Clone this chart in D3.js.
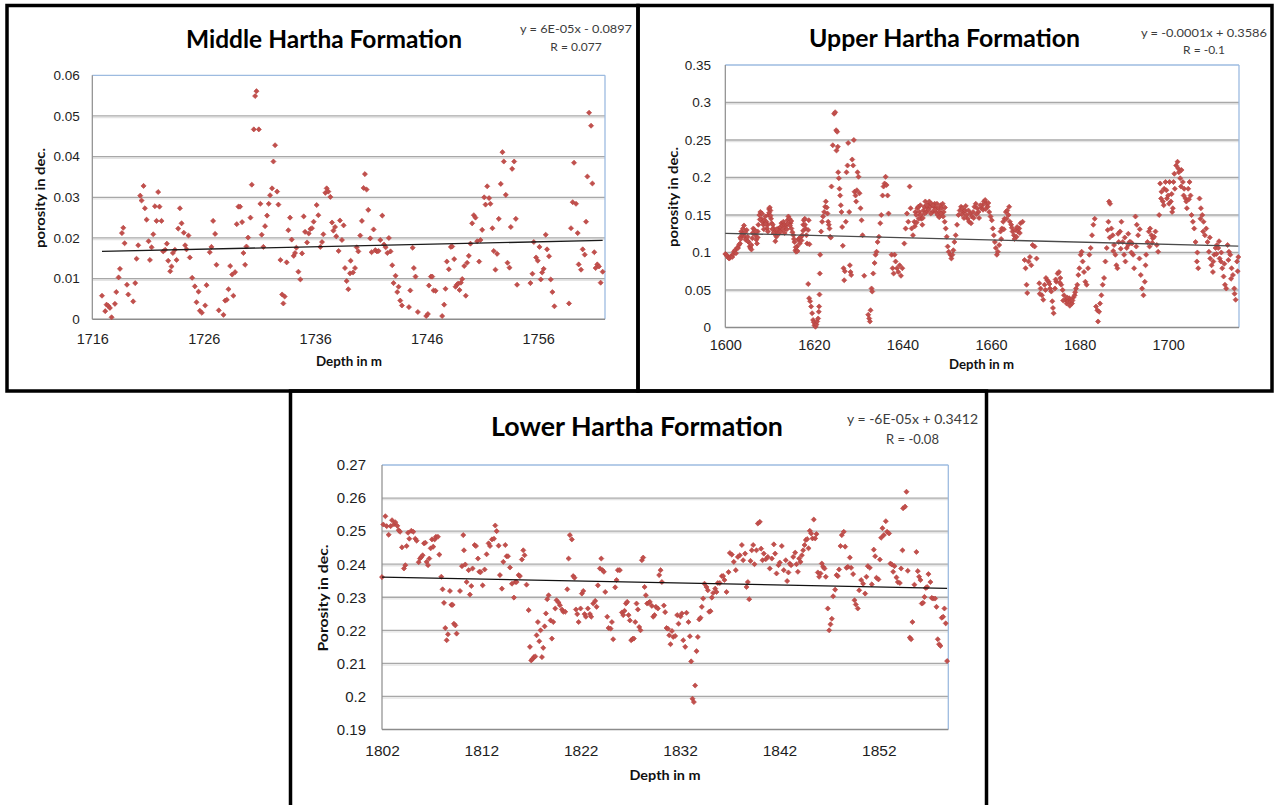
<!DOCTYPE html>
<meta charset="utf-8">
<style>
body { margin: 0; background: #fff; }
svg { display: block; }
.tick text { font-family: "Liberation Sans", Arial, sans-serif; fill: #1e1e1e; }
.title { font-family: Lato, "Open Sans", sans-serif; font-weight: bold; fill: #000; }
.eq { font-family: Lato, "Open Sans", sans-serif; fill: #3c3c3c; }
.axis-title { font-family: Lato, "Open Sans", sans-serif; font-weight: bold; fill: #111; }
</style>
<body>
<script src="https://d3js.org/d3.v7.min.js"></script>
<script>
// ---- data: [depth m, porosity dec.] ----
var middlePoints = [
 [1716.87,0.0058],[1717.16,0.0020],[1717.28,0.0036],[1717.43,0.0033],[1717.58,0.0028],[1717.73,0.0005],[1718.03,0.0038],[1718.15,0.0067],
 [1718.36,0.0103],[1718.48,0.0124],[1718.66,0.0212],[1718.78,0.0225],[1718.90,0.0187],[1719.11,0.0085],[1719.23,0.0061],[1719.67,0.0044],
 [1719.85,0.0089],[1719.97,0.0149],[1720.12,0.0182],[1720.30,0.0304],[1720.42,0.0292],[1720.60,0.0328],[1720.72,0.0273],[1720.87,0.0245],
 [1721.05,0.0192],[1721.17,0.0146],[1721.32,0.0177],[1721.47,0.0209],[1721.62,0.0278],[1721.76,0.0242],[1721.91,0.0313],[1722.03,0.0277],
 [1722.21,0.0242],[1722.36,0.0167],[1722.54,0.0171],[1722.69,0.0186],[1722.81,0.0144],[1722.99,0.0118],[1723.11,0.0130],[1723.23,0.0163],
 [1723.41,0.0171],[1723.56,0.0146],[1723.71,0.0223],[1723.86,0.0273],[1724.01,0.0236],[1724.21,0.0213],[1724.33,0.0182],[1724.45,0.0172],
 [1724.63,0.0206],[1724.75,0.0152],[1724.96,0.0102],[1725.20,0.0081],[1725.35,0.0042],[1725.53,0.0068],[1725.65,0.0021],[1725.83,0.0016],
 [1726.13,0.0034],[1726.25,0.0084],[1726.54,0.0165],[1726.69,0.0178],[1726.84,0.0242],[1727.02,0.0210],[1727.14,0.0134],[1727.35,0.0022],
 [1727.77,0.0011],[1727.92,0.0046],[1728.07,0.0048],[1728.22,0.0074],[1728.37,0.0131],[1728.55,0.0110],[1728.66,0.0058],[1728.81,0.0116],
 [1728.96,0.0234],[1729.11,0.0277],[1729.26,0.0277],[1729.44,0.0239],[1729.56,0.0163],[1729.71,0.0134],[1729.83,0.0179],[1729.98,0.0201],
 [1730.19,0.0250],[1730.31,0.0331],[1730.49,0.0467],[1730.61,0.0549],[1730.73,0.0561],[1730.94,0.0467],[1731.08,0.0284],[1731.20,0.0208],
 [1731.35,0.0178],[1731.50,0.0229],[1731.68,0.0255],[1731.83,0.0284],[1731.95,0.0305],[1732.13,0.0322],[1732.25,0.0388],[1732.40,0.0428],
 [1732.58,0.0314],[1732.70,0.0282],[1732.88,0.0146],[1733.03,0.0061],[1733.14,0.0039],[1733.26,0.0056],[1733.44,0.0140],[1733.59,0.0219],
 [1733.74,0.0250],[1733.89,0.0196],[1734.07,0.0156],[1734.19,0.0163],[1734.31,0.0176],[1734.49,0.0117],[1734.67,0.0098],[1734.82,0.0162],
 [1734.97,0.0253],[1735.09,0.0215],[1735.27,0.0189],[1735.42,0.0211],[1735.57,0.0222],[1735.71,0.0224],[1735.86,0.0240],[1736.13,0.0281],
 [1736.28,0.0256],[1736.46,0.0178],[1736.61,0.0190],[1736.73,0.0209],[1736.91,0.0311],[1737.03,0.0322],[1737.18,0.0314],[1737.36,0.0301],
 [1737.51,0.0238],[1737.63,0.0218],[1737.78,0.0227],[1737.89,0.0204],[1738.10,0.0168],[1738.22,0.0243],[1738.40,0.0195],[1738.55,0.0231],
 [1738.67,0.0126],[1738.82,0.0094],[1738.97,0.0074],[1739.12,0.0113],[1739.18,0.0144],[1739.39,0.0115],[1739.57,0.0126],[1739.72,0.0177],
 [1739.87,0.0167],[1740.04,0.0206],[1740.19,0.0242],[1740.34,0.0323],[1740.46,0.0357],[1740.61,0.0319],[1740.76,0.0269],[1740.94,0.0199],
 [1741.06,0.0165],[1741.24,0.0221],[1741.39,0.0170],[1741.54,0.0167],[1741.69,0.0168],[1741.84,0.0195],[1742.02,0.0255],[1742.17,0.0184],
 [1742.32,0.0177],[1742.47,0.0163],[1742.61,0.0200],[1742.76,0.0167],[1742.91,0.0133],[1743.03,0.0089],[1743.21,0.0107],[1743.36,0.0067],
 [1743.48,0.0080],[1743.63,0.0046],[1743.78,0.0034],[1744.41,0.0030],[1744.53,0.0071],[1744.74,0.0176],[1744.85,0.0126],[1745.00,0.0105],
 [1745.21,0.0018],[1745.96,0.0008],[1746.11,0.0013],[1746.20,0.0083],[1746.38,0.0105],[1746.50,0.0105],[1746.62,0.0071],[1746.80,0.0070],
 [1747.39,0.0008],[1747.57,0.0036],[1747.69,0.0075],[1747.81,0.0142],[1747.99,0.0123],[1748.17,0.0178],[1748.29,0.0179],[1748.47,0.0148],
 [1748.59,0.0080],[1748.71,0.0085],[1748.83,0.0088],[1748.95,0.0072],[1749.07,0.0090],[1749.19,0.0099],[1749.37,0.0131],[1749.51,0.0058],
 [1749.63,0.0139],[1749.78,0.0156],[1749.93,0.0186],[1750.08,0.0236],[1750.23,0.0256],[1750.38,0.0250],[1750.53,0.0192],[1750.71,0.0142],
 [1750.83,0.0195],[1750.98,0.0220],[1751.16,0.0300],[1751.28,0.0282],[1751.43,0.0327],[1751.60,0.0298],[1751.72,0.0284],[1751.90,0.0224],
 [1752.02,0.0168],[1752.17,0.0122],[1752.32,0.0161],[1752.47,0.0247],[1752.65,0.0333],[1752.80,0.0411],[1752.92,0.0388],[1753.10,0.0306],
 [1753.25,0.0139],[1753.43,0.0127],[1753.55,0.0227],[1753.67,0.0370],[1753.85,0.0388],[1754.00,0.0247],[1754.11,0.0085],[1755.31,0.0089],
 [1755.49,0.0112],[1755.61,0.0190],[1755.82,0.0152],[1755.97,0.0144],[1756.12,0.0178],[1756.24,0.0098],[1756.36,0.0115],[1756.50,0.0124],
 [1756.68,0.0208],[1756.80,0.0172],[1756.98,0.0155],[1757.13,0.0098],[1757.28,0.0067],[1757.46,0.0032],[1758.77,0.0039],[1758.95,0.0224],
 [1759.10,0.0288],[1759.22,0.0385],[1759.40,0.0284],[1759.55,0.0212],[1759.64,0.0135],[1759.85,0.0122],[1760.00,0.0172],[1760.18,0.0159],
 [1760.30,0.0240],[1760.42,0.0351],[1760.57,0.0508],[1760.75,0.0476],[1760.87,0.0334],[1761.04,0.0165],[1761.16,0.0126],[1761.31,0.0135],
 [1761.46,0.0130],[1761.61,0.0090],[1761.79,0.0117]
];

var upperPoints = [
 [1600.00,0.098],[1600.23,0.097],[1600.45,0.095],[1600.68,0.093],[1600.90,0.092],[1601.13,0.094],[1601.36,0.095],[1601.58,0.094],
 [1601.81,0.098],[1601.96,0.101],[1602.19,0.103],[1602.41,0.099],[1602.64,0.106],[1602.87,0.106],[1603.09,0.110],[1603.32,0.112],
 [1603.39,0.120],[1603.62,0.128],[1603.77,0.123],[1604.00,0.132],[1604.22,0.136],[1604.37,0.121],[1604.60,0.117],[1604.83,0.130],
 [1605.05,0.121],[1605.28,0.114],[1605.50,0.108],[1605.66,0.106],[1605.88,0.110],[1606.11,0.119],[1606.33,0.132],[1606.56,0.130],
 [1606.79,0.123],[1607.01,0.117],[1607.16,0.112],[1607.31,0.128],[1607.47,0.137],[1607.69,0.150],[1607.92,0.154],[1608.14,0.145],
 [1608.37,0.141],[1608.60,0.137],[1608.82,0.143],[1609.05,0.148],[1609.28,0.141],[1609.43,0.132],[1609.58,0.137],[1609.73,0.150],
 [1609.88,0.158],[1610.03,0.160],[1610.18,0.156],[1610.33,0.145],[1610.48,0.139],[1610.71,0.137],[1610.93,0.132],[1611.16,0.128],
 [1611.39,0.124],[1611.54,0.121],[1611.76,0.128],[1611.99,0.132],[1612.22,0.130],[1612.44,0.134],[1612.67,0.139],[1612.89,0.136],
 [1613.12,0.141],[1613.35,0.137],[1613.57,0.132],[1613.80,0.137],[1614.03,0.143],[1614.25,0.148],[1614.48,0.145],[1614.70,0.139],
 [1614.93,0.132],[1615.16,0.127],[1615.38,0.123],[1615.61,0.114],[1615.84,0.103],[1615.99,0.101],[1616.21,0.108],[1616.44,0.117],
 [1616.67,0.118],[1616.89,0.120],[1617.12,0.121],[1617.34,0.123],[1617.57,0.129],[1617.72,0.143],[1617.95,0.145],[1618.10,0.132],
 [1618.32,0.123],[1618.48,0.112],[1618.70,0.130],[1618.85,0.143],[1619.00,0.111],[1618.72,0.058],[1618.93,0.039],[1619.15,0.035],
 [1619.38,0.028],[1619.61,0.019],[1619.83,0.010],[1619.98,0.007],[1620.13,0.003],[1620.36,0.001],[1620.59,0.004],[1620.74,0.008],
 [1620.96,0.012],[1621.11,0.021],[1621.19,0.028],[1621.27,0.044],[1621.34,0.072],[1621.42,0.097],[1621.64,0.128],[1621.87,0.141],
 [1622.09,0.148],[1622.32,0.154],[1622.55,0.161],[1622.70,0.168],[1622.92,0.160],[1623.07,0.152],[1623.23,0.141],[1623.38,0.137],
 [1623.53,0.132],[1623.68,0.121],[1623.83,0.120],[1623.98,0.188],[1624.28,0.243],[1624.58,0.285],[1624.81,0.287],[1625.04,0.263],
 [1625.26,0.261],[1625.41,0.241],[1625.11,0.236],[1625.49,0.207],[1625.64,0.199],[1625.79,0.185],[1625.94,0.176],[1626.09,0.163],
 [1626.24,0.154],[1626.39,0.134],[1626.54,0.109],[1626.70,0.079],[1626.85,0.063],[1627.00,0.075],[1627.22,0.141],[1627.37,0.207],
 [1627.60,0.216],[1627.75,0.246],[1627.98,0.154],[1628.13,0.083],[1628.28,0.074],[1628.43,0.070],[1628.66,0.224],[1628.88,0.216],
 [1629.03,0.250],[1629.18,0.181],[1629.41,0.176],[1629.56,0.168],[1629.71,0.183],[1629.86,0.207],[1630.09,0.201],[1630.31,0.179],
 [1630.54,0.159],[1630.77,0.143],[1630.99,0.123],[1631.37,0.069],[1632.28,0.017],[1632.50,0.012],[1632.65,0.008],[1632.80,0.023],
 [1633.03,0.052],[1633.18,0.048],[1633.41,0.072],[1633.71,0.086],[1633.93,0.097],[1634.16,0.101],[1634.39,0.114],[1634.69,0.121],
 [1634.99,0.139],[1635.22,0.150],[1635.52,0.176],[1635.74,0.188],[1635.97,0.192],[1636.20,0.201],[1636.42,0.190],[1636.65,0.176],
 [1636.87,0.152],[1637.55,0.097],[1637.78,0.079],[1638.01,0.072],[1638.23,0.097],[1638.46,0.088],[1638.76,0.079],[1639.06,0.074],
 [1639.36,0.083],[1639.67,0.069],[1639.97,0.079],[1640.42,0.112],[1640.72,0.132],[1641.02,0.152],[1641.32,0.141],[1641.63,0.188],
 [1641.85,0.159],[1642.08,0.132],[1642.38,0.123],[1642.68,0.141],[1642.91,0.154],[1643.13,0.150],[1643.36,0.159],[1643.59,0.161],
 [1643.81,0.154],[1644.04,0.163],[1644.27,0.145],[1644.49,0.137],[1644.72,0.156],[1644.94,0.161],[1645.17,0.168],[1645.40,0.154],
 [1645.62,0.159],[1645.85,0.164],[1646.07,0.168],[1646.30,0.161],[1646.53,0.165],[1646.75,0.154],[1647.06,0.161],[1647.28,0.165],
 [1647.51,0.154],[1647.73,0.159],[1647.96,0.150],[1648.19,0.159],[1648.41,0.154],[1648.64,0.163],[1648.87,0.159],[1649.09,0.165],
 [1649.32,0.154],[1649.54,0.141],[1649.77,0.132],[1650.00,0.121],[1650.22,0.108],[1650.45,0.101],[1650.83,0.097],[1651.05,0.092],
 [1651.28,0.097],[1651.50,0.103],[1651.73,0.114],[1652.03,0.123],[1652.33,0.137],[1652.64,0.150],[1652.94,0.156],[1653.24,0.161],
 [1653.54,0.159],[1653.84,0.154],[1654.14,0.156],[1654.45,0.150],[1654.75,0.145],[1655.05,0.141],[1655.35,0.152],[1655.65,0.148],
 [1655.95,0.154],[1656.26,0.161],[1656.56,0.165],[1656.86,0.159],[1657.16,0.154],[1657.78,0.159],[1658.08,0.163],[1658.38,0.168],
 [1658.68,0.170],[1658.98,0.165],[1659.28,0.161],[1659.59,0.154],[1659.89,0.148],[1660.19,0.143],[1660.41,0.132],[1660.64,0.123],
 [1660.87,0.114],[1661.09,0.106],[1661.32,0.097],[1661.55,0.101],[1661.85,0.110],[1662.15,0.128],[1662.45,0.132],[1662.75,0.141],
 [1663.05,0.145],[1663.36,0.154],[1663.66,0.156],[1663.96,0.150],[1664.26,0.141],[1664.56,0.137],[1664.86,0.128],[1665.17,0.123],
 [1665.47,0.130],[1665.77,0.121],[1666.07,0.128],[1666.37,0.132],[1666.67,0.139],[1667.13,0.141],[1667.58,0.090],[1667.81,0.079],
 [1668.03,0.057],[1668.18,0.046],[1668.48,0.088],[1668.79,0.094],[1669.09,0.083],[1669.39,0.110],[1669.84,0.108],[1670.29,0.092],
 [1670.90,0.059],[1671.20,0.052],[1671.50,0.043],[1671.80,0.037],[1672.10,0.057],[1672.41,0.066],[1672.71,0.063],[1673.01,0.061],
 [1673.31,0.052],[1673.61,0.048],[1673.84,0.035],[1673.99,0.026],[1674.14,0.019],[1674.44,0.052],[1674.74,0.061],[1675.04,0.072],
 [1675.35,0.074],[1675.65,0.066],[1675.87,0.057],[1676.18,0.050],[1676.48,0.043],[1676.78,0.037],[1677.08,0.032],[1677.38,0.035],
 [1677.68,0.039],[1677.99,0.035],[1678.29,0.032],[1678.59,0.040],[1678.89,0.043],[1679.19,0.052],[1679.49,0.057],[1679.72,0.070],
 [1679.95,0.079],[1680.25,0.097],[1680.47,0.101],[1680.70,0.088],[1681.00,0.074],[1681.30,0.061],[1681.60,0.057],[1681.91,0.079],
 [1682.21,0.097],[1682.51,0.106],[1682.81,0.123],[1683.11,0.137],[1683.42,0.145],[1683.72,0.028],[1684.02,0.023],[1684.17,0.008],
 [1684.40,0.021],[1684.62,0.032],[1684.92,0.043],[1685.22,0.057],[1685.53,0.066],[1685.83,0.088],[1686.13,0.106],[1686.36,0.130],
 [1686.51,0.141],[1686.66,0.168],[1686.88,0.165],[1687.19,0.132],[1687.49,0.123],[1687.79,0.110],[1688.09,0.097],[1688.32,0.083],
 [1688.54,0.079],[1688.84,0.114],[1689.15,0.128],[1689.45,0.141],[1689.75,0.114],[1690.05,0.097],[1690.35,0.088],[1690.65,0.106],
 [1690.96,0.110],[1691.26,0.114],[1691.56,0.114],[1691.86,0.112],[1692.09,0.097],[1692.31,0.079],[1692.62,0.148],[1692.92,0.137],
 [1693.22,0.123],[1693.52,0.092],[1693.82,0.070],[1694.12,0.052],[1694.43,0.043],[1694.73,0.061],[1695.03,0.097],[1695.33,0.114],
 [1695.63,0.128],[1695.93,0.132],[1696.23,0.123],[1696.54,0.119],[1696.84,0.121],[1697.14,0.128],[1697.44,0.110],[1697.74,0.101],
 [1697.97,0.150],[1698.20,0.192],[1698.50,0.181],[1698.80,0.168],[1699.10,0.185],[1699.40,0.194],[1699.70,0.172],[1700.01,0.176],
 [1700.31,0.194],[1700.61,0.168],[1700.91,0.154],[1701.06,0.159],[1701.21,0.194],[1701.51,0.185],[1701.81,0.216],[1702.12,0.221],
 [1702.42,0.207],[1702.72,0.199],[1703.02,0.210],[1703.32,0.194],[1703.62,0.185],[1703.93,0.172],[1704.23,0.159],[1704.53,0.185],
 [1704.83,0.194],[1705.06,0.176],[1705.28,0.150],[1705.59,0.141],[1705.89,0.132],[1706.19,0.114],[1706.49,0.088],[1706.79,0.079],
 [1707.09,0.172],[1707.40,0.159],[1707.70,0.150],[1708.00,0.141],[1708.30,0.123],[1708.90,0.114],[1709.21,0.101],[1709.51,0.092],
 [1709.81,0.083],[1710.11,0.074],[1710.41,0.097],[1710.71,0.106],[1711.02,0.110],[1711.32,0.106],[1711.62,0.092],[1711.92,0.088],
 [1712.22,0.079],[1712.52,0.068],[1712.83,0.057],[1713.13,0.052],[1713.43,0.110],[1713.73,0.101],[1714.03,0.097],[1714.33,0.079],
 [1714.63,0.070],[1714.94,0.052],[1715.24,0.037],[1715.54,0.088],[1715.84,0.094],
 // second layer of the denser stretches
 [1603.50,0.118],[1603.90,0.125],[1604.50,0.127],[1605.10,0.115],[1605.90,0.104],[1606.20,0.126],[1606.90,0.128],[1607.30,0.120],
 [1607.80,0.144],[1608.30,0.152],[1608.70,0.131],[1609.10,0.138],[1609.60,0.128],[1609.90,0.153],[1610.20,0.149],[1610.60,0.131],
 [1610.90,0.126],[1611.30,0.115],[1611.60,0.131],[1612.10,0.125],[1612.50,0.128],[1613.00,0.131],[1613.40,0.126],[1613.90,0.131],
 [1614.10,0.138],[1614.60,0.136],[1614.90,0.142],[1615.50,0.118],[1615.90,0.107],[1616.30,0.102],[1616.80,0.112],[1617.20,0.116],
 [1617.60,0.137],[1618.00,0.137],[1642.80,0.135],[1643.20,0.140],[1643.70,0.145],[1644.10,0.150],[1644.60,0.146],[1645.00,0.152],
 [1645.50,0.163],[1645.90,0.157],[1646.40,0.152],[1646.90,0.163],[1647.40,0.157],[1647.80,0.165],[1648.30,0.147],[1648.70,0.152],
 [1649.20,0.148],[1649.60,0.160],[1653.40,0.151],[1653.90,0.146],[1654.30,0.162],[1654.90,0.156],[1655.50,0.139],[1656.10,0.146],
 [1656.70,0.151],[1657.30,0.146],[1657.60,0.163],[1658.20,0.157],[1658.80,0.158],[1659.40,0.166],[1662.30,0.118],[1662.90,0.131],
 [1663.50,0.145],[1664.10,0.161],[1664.70,0.133],[1665.30,0.118],[1665.90,0.134],[1666.50,0.126],[1671.00,0.045],[1672.30,0.050],
 [1673.20,0.058],[1674.60,0.064],[1675.50,0.060],[1676.30,0.036],[1677.20,0.040],[1677.80,0.029],[1678.40,0.036],[1679.00,0.047],
 [1686.80,0.120],[1687.60,0.102],[1688.70,0.125],[1689.30,0.105],[1690.20,0.120],[1691.00,0.125],[1691.70,0.100],[1692.80,0.108],
 [1693.60,0.131],[1694.90,0.083],[1695.80,0.108],[1696.40,0.113],[1698.40,0.172],[1699.00,0.163],[1699.60,0.183],[1700.20,0.165],
 [1700.80,0.178],[1701.40,0.205],[1702.30,0.212],[1702.90,0.188],[1703.50,0.176],[1704.10,0.168],[1704.70,0.171],[1706.60,0.100],
 [1707.30,0.145],[1707.90,0.128],[1708.60,0.132],[1709.40,0.120],[1710.20,0.088],[1710.90,0.098],[1711.50,0.115],[1712.00,0.100],
 [1712.70,0.085],[1713.60,0.090],[1714.20,0.065],[1715.00,0.045],[1715.70,0.075]
];

var lowerPoints = [
 [1802.00,0.2361],[1802.13,0.2520],[1802.34,0.2545],[1802.47,0.2515],[1802.67,0.2489],[1802.87,0.2515],[1803.01,0.2533],[1803.21,0.2521],
 [1803.34,0.2527],[1803.54,0.2516],[1803.68,0.2503],[1803.81,0.2498],[1804.01,0.2451],[1804.21,0.2387],[1804.35,0.2397],[1804.48,0.2455],
 [1804.62,0.2495],[1804.75,0.2477],[1804.95,0.2501],[1805.15,0.2498],[1805.35,0.2477],[1805.49,0.2471],[1805.69,0.2406],[1805.82,0.2417],
 [1805.96,0.2422],[1806.09,0.2427],[1806.23,0.2463],[1806.36,0.2465],[1806.49,0.2407],[1806.63,0.2397],[1806.76,0.2417],[1806.90,0.2448],
 [1807.03,0.2475],[1807.16,0.2453],[1807.30,0.2475],[1807.43,0.2483],[1807.63,0.2483],[1807.77,0.2429],[1807.97,0.2362],[1808.10,0.2324],
 [1808.24,0.2283],[1808.37,0.2207],[1808.51,0.2170],[1808.64,0.2188],[1808.84,0.2319],[1808.98,0.2277],[1809.11,0.2277],[1809.24,0.2220],
 [1809.38,0.2215],[1809.51,0.2190],[1809.85,0.2319],[1810.05,0.2394],[1810.18,0.2488],[1810.25,0.2442],[1810.38,0.2399],[1810.52,0.2346],
 [1810.72,0.2382],[1810.85,0.2308],[1810.99,0.2334],[1811.12,0.2387],[1811.32,0.2458],[1811.46,0.2455],[1811.66,0.2417],[1811.79,0.2377],
 [1811.93,0.2376],[1812.13,0.2336],[1812.33,0.2384],[1812.53,0.2430],[1812.73,0.2463],[1812.87,0.2455],[1813.07,0.2475],[1813.27,0.2477],
 [1813.40,0.2517],[1813.54,0.2500],[1813.74,0.2456],[1813.87,0.2367],[1814.07,0.2326],[1814.21,0.2407],[1814.41,0.2458],[1814.54,0.2424],
 [1814.68,0.2424],[1814.88,0.2390],[1815.08,0.2341],[1815.28,0.2299],[1815.41,0.2346],[1815.55,0.2346],[1815.75,0.2367],[1815.88,0.2364],
 [1816.08,0.2414],[1816.22,0.2442],[1816.35,0.2427],[1816.55,0.2338],[1816.76,0.2261],[1816.89,0.2150],[1817.02,0.2109],[1817.16,0.2114],
 [1817.29,0.2119],[1817.43,0.2121],[1817.56,0.2185],[1817.69,0.2225],[1817.83,0.2167],[1817.96,0.2200],[1818.10,0.2119],[1818.23,0.2147],
 [1818.37,0.2212],[1818.50,0.2251],[1818.63,0.2294],[1818.77,0.2306],[1818.97,0.2230],[1819.10,0.2175],[1819.24,0.2225],[1819.44,0.2266],
 [1819.57,0.2291],[1819.77,0.2284],[1819.91,0.2276],[1820.11,0.2263],[1820.24,0.2256],[1820.44,0.2256],[1820.65,0.2324],[1820.78,0.2417],
 [1820.91,0.2488],[1821.11,0.2475],[1821.25,0.2364],[1821.38,0.2359],[1821.52,0.2263],[1821.65,0.2249],[1821.79,0.2225],[1821.99,0.2266],
 [1822.12,0.2311],[1822.26,0.2319],[1822.39,0.2249],[1822.52,0.2241],[1822.72,0.2266],[1822.93,0.2249],[1823.06,0.2241],[1823.26,0.2281],
 [1823.46,0.2289],[1823.60,0.2271],[1823.73,0.2336],[1823.93,0.2387],[1824.07,0.2417],[1824.20,0.2382],[1824.33,0.2377],[1824.47,0.2316],
 [1824.67,0.2241],[1824.80,0.2207],[1825.01,0.2205],[1825.14,0.2225],[1825.27,0.2173],[1825.47,0.2330],[1825.61,0.2352],[1825.74,0.2382],
 [1825.94,0.2382],[1826.15,0.2254],[1826.28,0.2246],[1826.41,0.2259],[1826.55,0.2281],[1826.68,0.2286],[1826.82,0.2246],[1826.95,0.2230],
 [1827.08,0.2170],[1827.22,0.2174],[1827.35,0.2175],[1827.49,0.2225],[1827.62,0.2281],[1827.75,0.2263],[1827.89,0.2210],[1828.02,0.2200],
 [1828.16,0.2412],[1828.29,0.2420],[1828.43,0.2331],[1828.56,0.2306],[1828.69,0.2281],[1828.83,0.2283],[1828.96,0.2286],[1829.16,0.2274],
 [1829.30,0.2241],[1829.43,0.2246],[1829.57,0.2271],[1829.77,0.2266],[1829.90,0.2367],[1830.04,0.2382],[1830.17,0.2346],[1830.37,0.2275],
 [1830.50,0.2255],[1830.64,0.2207],[1830.77,0.2205],[1830.91,0.2185],[1831.04,0.2158],[1831.18,0.2198],[1831.31,0.2180],[1831.51,0.2183],
 [1831.71,0.2246],[1831.85,0.2220],[1832.05,0.2242],[1832.18,0.2251],[1832.32,0.2170],[1832.52,0.2150],[1832.65,0.2253],[1832.85,0.2225],
 [1832.99,0.2182],[1833.12,0.2106],[1833.25,0.1993],[1833.39,0.1983],[1833.52,0.2033],[1833.66,0.2137],[1833.79,0.2180],[1833.93,0.2233],
 [1834.06,0.2238],[1834.19,0.2271],[1834.33,0.2296],[1834.46,0.2341],[1834.66,0.2331],[1834.80,0.2321],[1834.93,0.2256],[1835.07,0.2258],
 [1835.20,0.2299],[1835.33,0.2313],[1835.54,0.2326],[1835.67,0.2316],[1835.80,0.2343],[1836.00,0.2343],[1836.21,0.2364],[1836.34,0.2364],
 [1836.47,0.2352],[1836.68,0.2316],[1836.88,0.2376],[1837.01,0.2434],[1837.21,0.2429],[1837.41,0.2407],[1837.61,0.2382],[1837.82,0.2422],
 [1838.02,0.2427],[1838.22,0.2458],[1838.35,0.2412],[1838.55,0.2432],[1838.69,0.2331],[1838.82,0.2346],[1838.96,0.2294],[1839.09,0.2410],
 [1839.22,0.2442],[1839.36,0.2458],[1839.49,0.2400],[1839.69,0.2442],[1839.83,0.2523],[1840.03,0.2528],[1840.16,0.2447],[1840.30,0.2412],
 [1840.43,0.2432],[1840.63,0.2415],[1840.83,0.2422],[1841.03,0.2387],[1841.24,0.2417],[1841.44,0.2460],[1841.57,0.2432],[1841.71,0.2372],
 [1841.91,0.2397],[1842.04,0.2405],[1842.24,0.2455],[1842.44,0.2382],[1842.64,0.2412],[1842.78,0.2349],[1842.91,0.2375],[1843.04,0.2402],
 [1843.18,0.2397],[1843.39,0.2422],[1843.59,0.2435],[1843.72,0.2400],[1843.86,0.2377],[1843.99,0.2417],[1844.12,0.2407],[1844.26,0.2427],
 [1844.39,0.2442],[1844.53,0.2458],[1844.66,0.2473],[1844.79,0.2476],[1844.93,0.2448],[1845.06,0.2501],[1845.20,0.2493],[1845.33,0.2478],
 [1845.46,0.2535],[1845.60,0.2478],[1845.73,0.2491],[1845.87,0.2375],[1846.00,0.2362],[1846.14,0.2372],[1846.27,0.2402],[1846.40,0.2392],
 [1846.54,0.2387],[1846.67,0.2362],[1846.87,0.2266],[1847.01,0.2200],[1847.14,0.2218],[1847.28,0.2235],[1847.41,0.2303],[1847.61,0.2323],
 [1847.75,0.2367],[1847.88,0.2364],[1848.01,0.2384],[1848.15,0.2455],[1848.28,0.2488],[1848.48,0.2498],[1848.62,0.2453],[1848.75,0.2389],
 [1848.89,0.2392],[1849.09,0.2420],[1849.22,0.2389],[1849.42,0.2370],[1849.56,0.2291],[1849.69,0.2278],[1849.89,0.2266],[1850.03,0.2321],
 [1850.23,0.2352],[1850.43,0.2341],[1850.63,0.2311],[1850.76,0.2362],[1850.90,0.2394],[1851.10,0.2389],[1851.30,0.2339],[1851.50,0.2444],
 [1851.64,0.2424],[1851.77,0.2359],[1851.97,0.2354],[1852.11,0.2414],[1852.24,0.2480],[1852.37,0.2509],[1852.51,0.2488],[1852.71,0.2530],
 [1852.84,0.2498],[1853.04,0.2493],[1853.18,0.2402],[1853.31,0.2399],[1853.45,0.2377],[1853.58,0.2394],[1853.78,0.2360],[1853.92,0.2346],
 [1854.12,0.2343],[1854.25,0.2387],[1854.39,0.2442],[1854.45,0.2569],[1854.65,0.2574],[1854.79,0.2619],[1854.92,0.2380],[1855.12,0.2178],
 [1855.26,0.2173],[1855.39,0.2225],[1855.59,0.2338],[1855.79,0.2437],[1855.93,0.2379],[1856.06,0.2362],[1856.20,0.2352],[1856.33,0.2281],
 [1856.46,0.2283],[1856.60,0.2301],[1856.73,0.2328],[1856.87,0.2331],[1857.00,0.2370],[1857.20,0.2346],[1857.34,0.2298],[1857.47,0.2296],
 [1857.67,0.2296],[1857.81,0.2271],[1857.94,0.2173],[1858.07,0.2158],[1858.21,0.2153],[1858.34,0.2238],[1858.48,0.2241],[1858.61,0.2266],
 [1858.74,0.2221],[1858.88,0.2107]
];

// linear trend lines, end points as drawn
var middleTrend = [[1716.87, 0.0167], [1761.79, 0.0194]];
var upperTrend = [[1600.00, 0.1256], [1715.84, 0.1086]];
var lowerTrend = [[1802.00, 0.2361], [1858.88, 0.2327]];

// axis ticks
var middleXTicks = [1716, 1726, 1736, 1746, 1756];
var middleYTicks = [0, 0.01, 0.02, 0.03, 0.04, 0.05, 0.06];
var upperXTicks = [1600, 1620, 1640, 1660, 1680, 1700];
var upperYTicks = [0, 0.05, 0.1, 0.15, 0.2, 0.25, 0.3, 0.35];
var lowerXTicks = [1802, 1812, 1822, 1832, 1842, 1852];
var lowerYTicks = [0.19, 0.2, 0.21, 0.22, 0.23, 0.24, 0.25, 0.26, 0.27];

// labels
var titles = ["Middle Hartha Formation", "Upper Hartha Formation", "Lower Hartha Formation"];
var equations = ["y = 6E-05x - 0.0897", "y = -0.0001x + 0.3586", "y = -6E-05x + 0.3412"];
var rValues = ["R = 0.077", "R = -0.1", "R = -0.08"];
var yTitles = ["porosity in dec.", "porosity in dec.", "Porosity in dec."];

// ---- layout ----
var svg = d3.select("body").append("svg")
    .attr("width", 1274)
    .attr("height", 805);

svg.append("rect").attr("width", 1274).attr("height", 805).attr("fill", "#fff");

var panels = [
  { pts: middlePoints, trend: middleTrend, xTicks: middleXTicks, yTicks: middleYTicks,
    xDomain: [1716, 1762], yDomain: [0, 0.06],
    plot: { l: 92.3, r: 605, t: 75.3, b: 319.3 },
    title: { x: 324, y: 48, len: 276, size: 25 },
    eq: { x: 576, y1: 33, y2: 51, size: 12, len: 112 },
    yTitle: { x: 44.5, y: 198, size: 12.5, len: 100 },
    xTitle: { x: 349, y: 366, size: 12.5, len: 66 },
    yTickPad: 12.5, yTickSize: 13.5, xTickPad: 14.4, xTickSize: 14.5, trendColor: "#1a1a1a",
    title_i: 0 },
  { pts: upperPoints, trend: upperTrend, xTicks: upperXTicks, yTicks: upperYTicks,
    xDomain: [1600, 1716], yDomain: [0, 0.35],
    plot: { l: 725.3, r: 1239, t: 65, b: 327.5 },
    title: { x: 944.5, y: 47, len: 271, size: 25 },
    eq: { x: 1204, y1: 37, y2: 54, size: 12, len: 126 },
    yTitle: { x: 677.5, y: 197, size: 12.5, len: 100 },
    xTitle: { x: 981.5, y: 369, size: 12.5, len: 65 },
    yTickPad: 14.3, yTickSize: 13.5, xTickPad: 12.2, xTickSize: 14.5, trendColor: "#4a4a4a",
    title_i: 1 },
  { pts: lowerPoints, trend: lowerTrend, xTicks: lowerXTicks, yTicks: lowerYTicks,
    xDomain: [1802, 1859], yDomain: [0.19, 0.27],
    plot: { l: 382, r: 948.3, t: 465, b: 729.5 },
    title: { x: 637, y: 436, len: 292, size: 26 },
    eq: { x: 912.5, y1: 424, y2: 444, size: 13, len: 131 },
    yTitle: { x: 327.5, y: 598, size: 14, len: 107 },
    xTitle: { x: 665, y: 780, size: 13.5, len: 71 },
    yTickPad: 16, yTickSize: 15, xTickPad: 15.5, xTickSize: 15.5, trendColor: "#111",
    title_i: 2 }
];

var fmt = function(d) { return String(+d.toFixed(2)); };

panels.forEach(function(p) {
  var x = d3.scaleLinear().domain(p.xDomain).range([p.plot.l, p.plot.r]);
  var y = d3.scaleLinear().domain(p.yDomain).range([p.plot.b, p.plot.t]);
  var g = svg.append("g");

  // gridlines (with the faint shadow excel draws under them)
  var inner = p.yTicks.slice(1, -1);
  g.selectAll(".gshadow").data(inner).enter().append("line")
      .attr("x1", p.plot.l).attr("x2", p.plot.r)
      .attr("y1", function(d) { return y(d) + 1.6; })
      .attr("y2", function(d) { return y(d) + 1.6; })
      .attr("stroke", "#e4e4e4").attr("stroke-width", 1.4);
  g.selectAll(".grid").data(inner).enter().append("line")
      .attr("x1", p.plot.l).attr("x2", p.plot.r)
      .attr("y1", function(d) { return y(d); })
      .attr("y2", function(d) { return y(d); })
      .attr("stroke", "#a8a8a8").attr("stroke-width", 1.3);

  // plot area outline: blue top/right, grey axes
  g.append("line").attr("x1", p.plot.l).attr("x2", p.plot.r).attr("y1", p.plot.t).attr("y2", p.plot.t)
      .attr("stroke", "#9dbbe0").attr("stroke-width", 1.3);
  g.append("line").attr("x1", p.plot.r).attr("x2", p.plot.r).attr("y1", p.plot.t).attr("y2", p.plot.b)
      .attr("stroke", "#9dbbe0").attr("stroke-width", 1.3);
  g.append("line").attr("x1", p.plot.l).attr("x2", p.plot.l).attr("y1", p.plot.t).attr("y2", p.plot.b)
      .attr("stroke", "#8c8c8c").attr("stroke-width", 1.2);
  g.append("line").attr("x1", p.plot.l).attr("x2", p.plot.r).attr("y1", p.plot.b).attr("y2", p.plot.b)
      .attr("stroke", "#8c8c8c").attr("stroke-width", 1.4);

  // axes (labels only)
  var ya = g.append("g").attr("transform", "translate(" + p.plot.l + ",0)")
      .call(d3.axisLeft(y).tickValues(p.yTicks).tickSize(0).tickPadding(p.yTickPad).tickFormat(fmt));
  ya.select(".domain").remove();
  ya.selectAll("text").style("font-size", p.yTickSize + "px");

  var xa = g.append("g").attr("transform", "translate(0," + p.plot.b + ")")
      .call(d3.axisBottom(x).tickValues(p.xTicks).tickSize(0).tickPadding(p.xTickPad).tickFormat(d3.format("d")));
  xa.select(".domain").remove();
  xa.selectAll("text").style("font-size", p.xTickSize + "px");

  // points
  var diamond = d3.symbol().type(d3.symbolSquare).size(13);
  g.selectAll(".pt").data(p.pts).enter().append("path")
      .attr("d", diamond)
      .attr("transform", function(d) { return "translate(" + x(d[0]) + "," + y(d[1]) + ") rotate(45)"; })
      .attr("fill", "#c0504d")
      .attr("stroke", "#b9403c").attr("stroke-width", 0.6);

  // trend line
  g.append("path")
      .datum(p.trend)
      .attr("d", d3.line().x(function(d) { return x(d[0]); }).y(function(d) { return y(d[1]); }))
      .attr("fill", "none").attr("stroke", p.trendColor).attr("stroke-width", 1.3);

  // texts
  var i = p.title_i;
  g.append("text").attr("class", "title")
      .attr("x", p.title.x).attr("y", p.title.y).attr("text-anchor", "middle")
      .attr("textLength", p.title.len).attr("lengthAdjust", "spacingAndGlyphs")
      .style("font-size", p.title.size + "px").text(titles[i]);
  g.append("text").attr("class", "eq")
      .attr("x", p.eq.x).attr("y", p.eq.y1).attr("text-anchor", "middle")
      .attr("textLength", p.eq.len).attr("lengthAdjust", "spacingAndGlyphs")
      .style("font-size", p.eq.size + "px").text(equations[i]);
  g.append("text").attr("class", "eq")
      .attr("x", p.eq.x).attr("y", p.eq.y2).attr("text-anchor", "middle")
      .style("font-size", p.eq.size + "px").text(rValues[i]);
  g.append("text").attr("class", "axis-title")
      .attr("transform", "translate(" + p.yTitle.x + "," + p.yTitle.y + ") rotate(-90)")
      .attr("text-anchor", "middle")
      .attr("textLength", p.yTitle.len).attr("lengthAdjust", "spacingAndGlyphs")
      .style("font-size", p.yTitle.size + "px").text(yTitles[i]);
  g.append("text").attr("class", "axis-title")
      .attr("x", p.xTitle.x).attr("y", p.xTitle.y).attr("text-anchor", "middle")
      .attr("textLength", p.xTitle.len).attr("lengthAdjust", "spacingAndGlyphs")
      .style("font-size", p.xTitle.size + "px").text("Depth in m");
});

// black frames round the three charts
svg.append("rect").attr("x", 7).attr("y", 5.5).attr("width", 631).attr("height", 385.5)
    .attr("fill", "none").attr("stroke", "#000").attr("stroke-width", 3.5);
svg.append("rect").attr("x", 638).attr("y", 5.5).attr("width", 634).attr("height", 385.5)
    .attr("fill", "none").attr("stroke", "#000").attr("stroke-width", 3.5);
svg.append("rect").attr("x", 290.5).attr("y", 391).attr("width", 696).attr("height", 430)
    .attr("fill", "none").attr("stroke", "#000").attr("stroke-width", 3.5);
</script>
</body>
